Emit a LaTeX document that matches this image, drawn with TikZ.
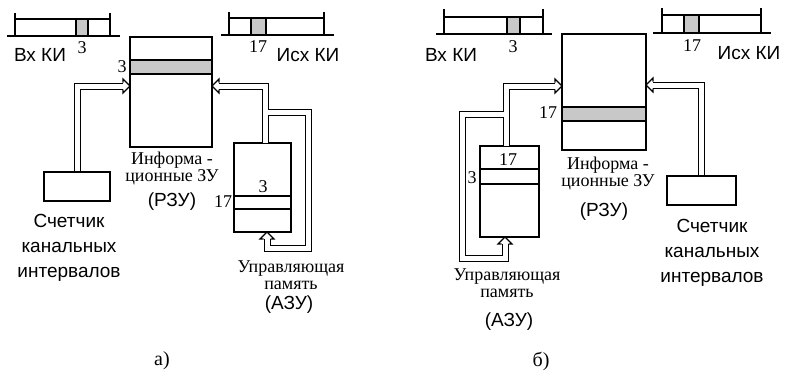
\documentclass[tikz,border=0pt]{standalone}
\usepackage{fontspec}
\setmainfont{Liberation Serif}
\newfontfamily\sansf{Liberation Sans}
\definecolor{cellgray}{RGB}{200,200,200}
\begin{document}
\begin{tikzpicture}[x=1pt,y=-1pt, line width=1.1pt,
  box/.style={draw, inner sep=0pt, fill=white},
  dbo/.style={line width=7pt, draw=black, line join=miter},
  dbi/.style={line width=5pt, draw=white, line join=miter},
  ohead/.pic={\draw[line width=1.1pt, line join=miter] (-7,3.5) -- (-7,7) -- (0,0) -- (-7,-7) -- (-7,-3.5);},
  sanslbl/.style={font=\sansf\fontsize{19}{25}\selectfont, inner sep=0pt, align=center},
  serlbl/.style={font=\fontsize{18}{17}\selectfont, inner sep=0pt, align=center},
  numlbl/.style={font=\fontsize{18}{18}\selectfont, inner sep=0pt},
  caplbl/.style={font=\fontsize{20}{20}\selectfont, inner sep=0pt},
]
\useasboundingbox (0,0) rectangle (787,372);

% ================= (a) =================
% input bar
\fill[cellgray] (76,19) rectangle (88,36);
\draw (7,36) -- (120,36);
\draw (15,13) -- (15,36); \draw (110,13) -- (110,36);
\draw (15,19) -- (110,19);
\draw (76,19) -- (76,36); \draw (88,19) -- (88,36);
\node[numlbl] (inA3) at (82,48) {3};
\node[sanslbl] (inAlbl) at (40,55) {Вх КИ};
% output bar
\fill[cellgray] (251,18) rectangle (266,35);
\draw (221,35) -- (334,35);
\draw (229,12) -- (229,35); \draw (324,12) -- (324,35);
\draw (229,18) -- (324,18);
\draw (251,18) -- (251,35); \draw (266,18) -- (266,35);
\node[numlbl] (outA17) at (258,47) {17};
\node[sanslbl] (outAlbl) at (308,55) {Исх КИ};
% RZU
\node[box, minimum width=82pt, minimum height=110pt] (rzuA) at (171,92) {};
\draw[fill=cellgray] (130,60) rectangle (212,74);
\node[numlbl] (rzuA3) at (122,67) {3};
\node[serlbl] (rzuAlbl) at (172,168.5) {Информа -\\ционные ЗУ};
\node[sanslbl] (rzuAname) at (172,202) {(РЗУ)};
% counter
\node[box, minimum width=66pt, minimum height=29pt] (cntA) at (77,186.5) {};
\node[sanslbl] (cntAlbl) at (69,248) {Счетчик\\канальных\\интервалов};
% AZU
\node[box, minimum width=57pt, minimum height=89pt] (azuA) at (262.5,187.5) {};
\draw (234,196) -- (291,196); \draw (234,209) -- (291,209);
\node[numlbl] (azuA3) at (263,187) {3};
\node[numlbl] (azuA17) at (223,202) {17};
\node[serlbl] (azuAlbl) at (291,275) {Управляющая\\память};
\node[sanslbl] (azuAname) at (289,305) {(АЗУ)};
% connector points
\coordinate (rzuAinL) at (130,86);
\coordinate (rzuAinR) at (212,86);
\coordinate (azuAtop) at (265.5,143);
\coordinate (jA) at (265.5,112.5);
\coordinate (kA) at (308.5,248);
\coordinate (azuAbot) at (267,232);

% ================= (b) =================
\fill[cellgray] (507,17) rectangle (520,34);
\draw (436,34) -- (552,34);
\draw (444,9) -- (444,34); \draw (543,9) -- (543,34);
\draw (444,17) -- (543,17);
\draw (507,17) -- (507,34); \draw (520,17) -- (520,34);
\node[numlbl] (inB3) at (513,47) {3};
\node[sanslbl] (inBlbl) at (451,55) {Вх КИ};
\fill[cellgray] (684,15) rectangle (699,33);
\draw (653,33) -- (771,33);
\draw (662,8) -- (662,33); \draw (761,8) -- (761,33);
\draw (662,15) -- (761,15);
\draw (684,15) -- (684,33); \draw (699,15) -- (699,33);
\node[numlbl] (outB17) at (692,46) {17};
\node[sanslbl] (outBlbl) at (749,53) {Исх КИ};
% RZU
\node[box, minimum width=84pt, minimum height=116pt] (rzuB) at (604,92) {};
\draw[fill=cellgray] (562,107) rectangle (646,121);
\node[numlbl] (rzuB17) at (548,113) {17};
\node[serlbl] (rzuBlbl) at (608,173.5) {Информа -\\ционные ЗУ};
\node[sanslbl] (rzuBname) at (604,212) {(РЗУ)};
% counter
\node[box, minimum width=69pt, minimum height=29pt] (cntB) at (701.5,190.5) {};
\node[sanslbl] (cntBlbl) at (712,253) {Счетчик\\канальных\\интервалов};
% AZU
\node[box, minimum width=59pt, minimum height=91pt] (azuB) at (509.5,191.5) {};
\draw (480,169) -- (539,169); \draw (480,184) -- (539,184);
\node[numlbl] (azuB17) at (508,160) {17};
\node[numlbl] (azuB3) at (472,178) {3};
\node[serlbl] (azuBlbl) at (507,283.5) {Управляющая\\память};
\node[sanslbl] (azuBname) at (509,322) {(АЗУ)};
\coordinate (rzuBinL) at (562,86);
\coordinate (rzuBinR) at (646,85);
\coordinate (azuBtop) at (506,146);
\coordinate (jB) at (506,114);
\coordinate (kB) at (462,258.5);
\coordinate (azuBbot) at (505,237);

% ================= double connectors =================
\foreach \s in {dbo,dbi}{
  \draw[\s, shorten >=7pt] (cntA.north) |- (rzuAinL);
  \draw[\s, shorten >=7pt] (azuAtop) |- (rzuAinR);
  \draw[\s, shorten >=7pt] (jA) -| (kA) -| (azuAbot);
  \draw[\s, shorten >=7pt] (cntB.north) |- (rzuBinR);
  \draw[\s, shorten >=7pt] (azuBtop) |- (rzuBinL);
  \draw[\s, shorten >=7pt] (jB) -| (kB) -| (azuBbot);
}
\pic at (rzuAinL) {ohead};
\pic[rotate=180] at (rzuAinR) {ohead};
\pic[rotate=90] at (azuAbot) {ohead};
\pic[rotate=180] at (rzuBinR) {ohead};
\pic at (rzuBinL) {ohead};
\pic[rotate=90] at (azuBbot) {ohead};

% captions
\node[caplbl] (capA) at (162,361) {а)};
\node[caplbl] (capB) at (541,361) {б)};
\end{tikzpicture}
\end{document}
